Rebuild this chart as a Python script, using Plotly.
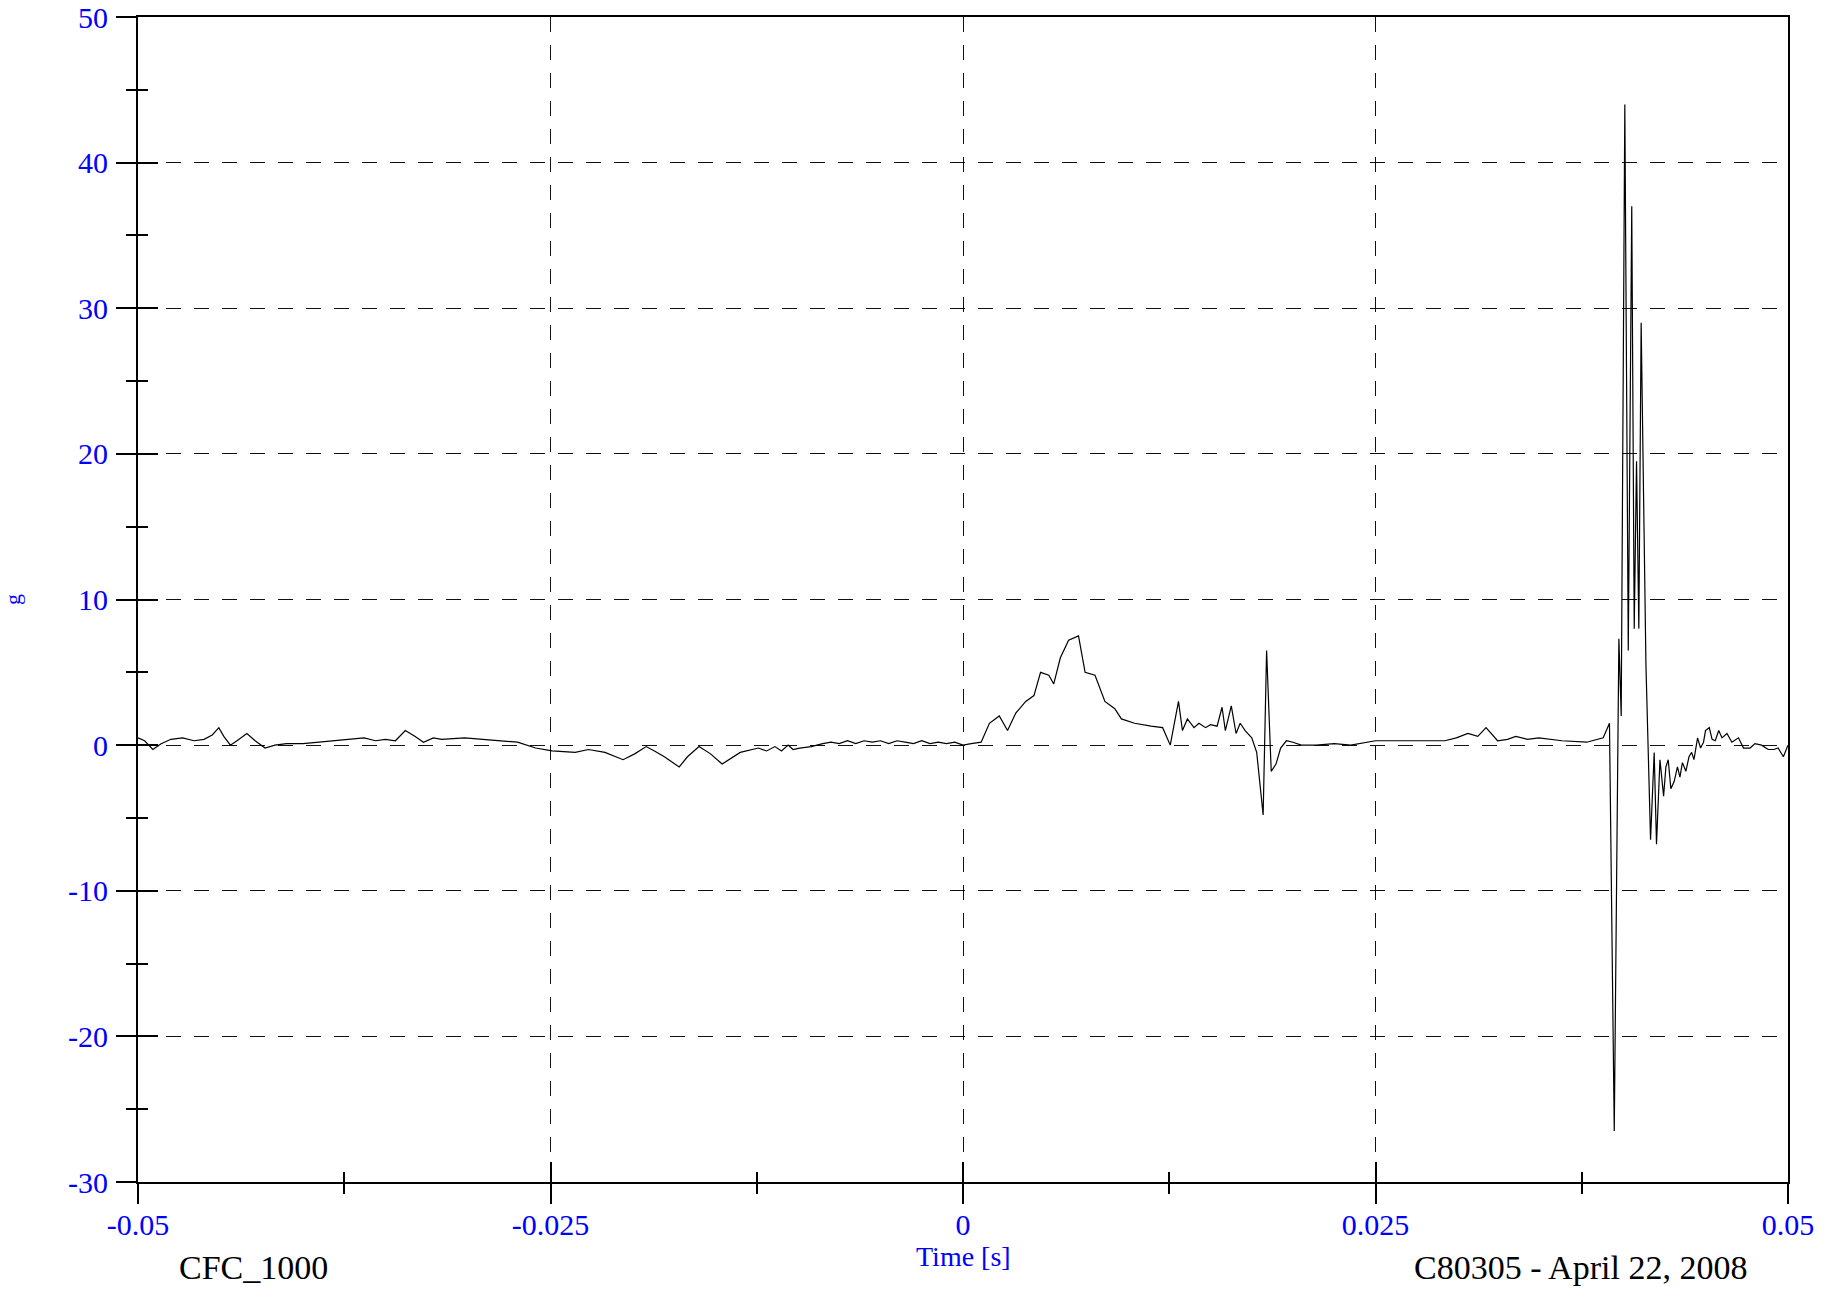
import plotly.graph_objects as go

# Time (ms) and acceleration (g)
time_ms = [
    -50.0, -49.6, -49.1, -48.6, -48.0, -47.3, -46.6, -46.0, -45.5, -45.1, -44.8, -44.4,
    -44.0, -43.4, -42.9, -42.3, -41.7, -41.0, -40.0, -39.0, -38.0, -37.0, -36.3, -35.6,
    -35.0, -34.4, -33.8, -33.2, -32.7, -32.1, -31.6, -30.2, -29.0, -28.4, -27.0, -25.9,
    -24.9, -23.5, -22.7, -21.7, -20.6, -19.9, -19.2, -18.7, -18.1, -17.2, -16.7, -16.0,
    -15.3, -14.6, -13.8, -13.5, -12.4, -11.9, -11.4, -11.0, -10.6, -10.3, -9.9, -9.2,
    -8.5, -8.0, -7.5, -7.0, -6.5, -6.0, -5.5, -5.0, -4.5, -4.0, -3.5, -3.0, -2.5, -2.0,
    -1.5, -1.0, -0.5, 0.0, 0.5, 1.1, 1.6, 2.2, 2.7, 3.2, 3.8, 4.3, 4.7, 5.2, 5.5, 5.9,
    6.4, 7.0, 7.4, 8.0, 8.6, 9.2, 9.6, 10.4, 11.4, 12.1, 12.56, 13.06, 13.3, 13.6, 14.0,
    14.3, 14.7, 15.0, 15.4, 15.7, 15.9, 16.26, 16.55, 16.8, 17.1, 17.5, 17.8, 18.19,
    18.40, 18.68, 18.97, 19.25, 19.6, 20.0, 20.5, 21.4, 22.5, 23.5, 25.0, 27.1, 29.2,
    29.9, 30.6, 31.2, 31.7, 32.4, 33.0, 33.5, 34.2, 34.9, 35.6, 36.3, 37.8, 38.8, 39.18,
    39.47, 39.75, 39.89, 40.11, 40.32, 40.53, 40.68, 40.82, 40.96, 41.10, 41.39, 41.67,
    41.89, 42.03, 42.24, 42.46, 42.6, 42.74, 42.9, 43.1, 43.3, 43.45, 43.6, 43.81, 44.0,
    44.16, 44.3, 44.52, 44.7, 44.88, 45.0, 45.23, 45.4, 45.59, 45.8, 46.0, 46.3, 46.6,
    47.0, 47.3, 47.7, 48.0, 48.4, 48.8, 49.15, 49.4, 49.72, 50.0,
]
accel_g = [
    0.5, 0.3, -0.3, 0.1, 0.4, 0.5, 0.3, 0.4, 0.7, 1.2, 0.6, 0.0,
    0.3, 0.8, 0.3, -0.2, 0.0, 0.1, 0.1, 0.2, 0.3, 0.4, 0.5, 0.3,
    0.4, 0.3, 1.0, 0.6, 0.2, 0.5, 0.4, 0.5, 0.4, 0.3, 0.2, -0.2,
    -0.4, -0.5, -0.3, -0.5, -1.0, -0.6, -0.1, -0.4, -0.8, -1.5, -0.8, -0.1,
    -0.6, -1.3, -0.7, -0.5, -0.2, -0.4, -0.1, -0.4, 0.0, -0.3, -0.2, -0.1,
    0.1, 0.2, 0.1, 0.3, 0.1, 0.3, 0.2, 0.3, 0.1, 0.3, 0.2, 0.1, 0.3, 0.1,
    0.2, 0.1, 0.2, 0.0, 0.1, 0.2, 1.5, 2.0, 1.0, 2.2, 3.0, 3.4, 5.0, 4.8, 4.2, 6.0,
    7.2, 7.5, 5.0, 4.8, 3.0, 2.5, 1.8, 1.5, 1.3, 1.2, 0.0, 3.0, 1.0, 1.8, 1.2,
    1.5, 1.2, 1.4, 1.3, 2.6, 1.0, 2.7, 0.8, 1.5, 1.0, 0.5, -0.5, -4.8,
    6.5, -1.8, -1.3, -0.2, 0.3, 0.2, 0.0, 0.0, 0.1, 0.0, 0.3, 0.3, 0.3,
    0.5, 0.8, 0.6, 1.2, 0.3, 0.4, 0.6, 0.4, 0.5, 0.4, 0.3, 0.2, 0.5, 1.5,
    -26.5, 7.3, 2.0, 44.0, 6.5, 37.0, 8.0, 19.5, 8.0, 29.0, 5.5, -6.5,
    -0.5, -6.8, -1.0, -3.5, -1.5, -1.0, -3.0, -2.5, -1.5, -2.2, -1.2, -1.8, -0.8,
    -0.5, -1.0, 0.5, -0.2, 0.2, 1.0, 1.2, 0.4, 0.3, 1.0, 0.5, 0.8, 0.2,
    0.5, -0.2, -0.2, 0.1, 0.0, -0.3, -0.3, -0.2, -0.8, 0.0,
]
time_s = [t / 1000.0 for t in time_ms]

x_ticks = [-0.05, -0.025, 0, 0.025, 0.05]
x_tick_labels = ["-0.05", "-0.025", "0", "0.025", "0.05"]
y_ticks = [-30, -20, -10, 0, 10, 20, 30, 40, 50]
y_tick_labels = ["-30", "-20", "-10", "0", "10", "20", "30", "40", "50"]
x_minor = [-0.0375, -0.0125, 0.0125, 0.0375]

FONT = "Liberation Serif, Times New Roman, serif"
BLUE = "#0000ff"

fig = go.Figure()
fig.add_trace(go.Scatter(x=time_s, y=accel_g, mode="lines",
                         line=dict(color="black", width=1.2),
                         showlegend=False, hoverinfo="skip"))
# invisible helper trace so overlay axes (inward tick halves) are drawn
fig.add_trace(go.Scatter(x=[time_s[0]], y=[accel_g[0]], mode="none",
                         xaxis="x2", yaxis="y2", showlegend=False, hoverinfo="skip"))

grid = dict(showgrid=True, gridcolor="#111111", gridwidth=1, griddash="15px,13px")

fig.update_layout(
    width=1841, height=1292,
    margin=dict(l=138, r=53, t=17, b=110, autoexpand=False),
    paper_bgcolor="white", plot_bgcolor="white",
    font=dict(family=FONT, color=BLUE, size=30),
    xaxis=dict(
        range=[-0.05, 0.05], tickmode="array", tickvals=x_ticks, ticktext=x_tick_labels,
        ticks="outside", ticklen=20, tickwidth=1.5, tickcolor="black",
        minor=dict(tickmode="array", tickvals=x_minor,
                   ticks="outside", ticklen=10, tickwidth=1.5, tickcolor="black", showgrid=False),
        showline=True, linecolor="black", linewidth=2, mirror=True,
        zeroline=False, tickfont=dict(family=FONT, color=BLUE, size=30),
        ticklabelstandoff=-5,
        automargin=False,
        **grid,
    ),
    yaxis=dict(
        range=[-30, 50], tickmode="array", tickvals=y_ticks, ticktext=y_tick_labels,
        ticks="outside", ticklen=20, tickwidth=1.5, tickcolor="black",
        minor=dict(dtick=5, tick0=5, ticks="outside", ticklen=10, tickwidth=1.5,
                   tickcolor="black", showgrid=False),
        showline=True, linecolor="black", linewidth=2, mirror=True,
        zeroline=False, tickfont=dict(family=FONT, color=BLUE, size=30),
        ticklabelstandoff=2,
        title=dict(text="g", font=dict(family=FONT, color=BLUE, size=22), standoff=50),
        automargin=False,
        **grid,
    ),
    xaxis2=dict(
        range=[-0.05, 0.05], overlaying="x", anchor="y2", side="bottom",
        tickmode="array", tickvals=x_ticks, showticklabels=False,
        ticks="inside", ticklen=20, tickwidth=1.5, tickcolor="black",
        minor=dict(tickmode="array", tickvals=x_minor,
                   ticks="inside", ticklen=10, tickwidth=1.5, tickcolor="black", showgrid=False),
        showgrid=False, showline=False, zeroline=False,
    ),
    yaxis2=dict(
        range=[-30, 50], overlaying="y", anchor="x2", side="left",
        tickmode="array", tickvals=y_ticks, showticklabels=False,
        ticks="inside", ticklen=20, tickwidth=1.5, tickcolor="black",
        minor=dict(dtick=5, tick0=5, ticks="inside", ticklen=10, tickwidth=1.5,
                   tickcolor="black", showgrid=False),
        showgrid=False, showline=False, zeroline=False,
    ),
    annotations=[
        dict(text="Time [s]", xref="paper", yref="paper", x=0.5, y=-0.064,
             xanchor="center", yanchor="middle", showarrow=False,
             font=dict(family=FONT, color=BLUE, size=28)),
        dict(text="CFC_1000", xref="paper", yref="paper", x=0.0703, y=-0.0738,
             xanchor="center", yanchor="middle", showarrow=False,
             font=dict(family=FONT, color="black", size=34)),
        dict(text="C80305 - April 22, 2008", xref="paper", yref="paper", x=0.874, y=-0.0738,
             xanchor="center", yanchor="middle", showarrow=False,
             font=dict(family=FONT, color="black", size=34)),
    ],
)

fig.write_html("out.html", config={"displayModeBar": False},
               post_script="document.body.style.margin='0';document.body.style.padding='0';")
